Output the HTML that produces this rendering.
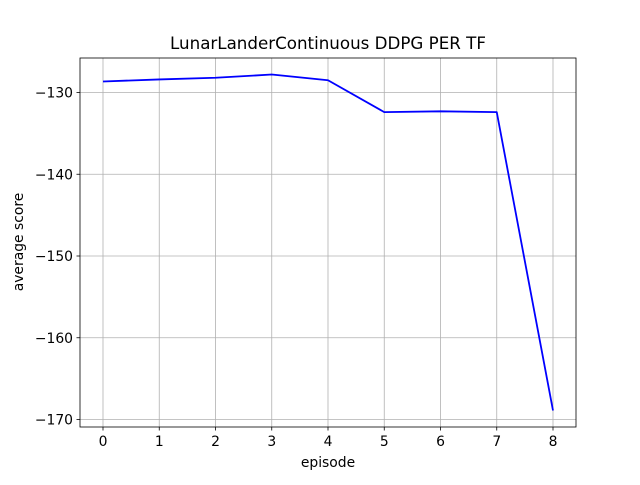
<!DOCTYPE html>
<html><head><meta charset="utf-8"><style>
body{margin:0;background:#fff;}
svg{font-family:"DejaVu Sans","Liberation Sans",sans-serif;}
</style></head><body>
<svg id="chart" width="640" height="480">
<rect width="640" height="480" fill="#fff"/>
<g id="grid"></g>
<rect x="80" y="58" width="496" height="369" fill="none" stroke="#000" stroke-width="0.8"/>
<g id="ticks"></g>
<g id="series"></g>
<text x="328" y="49" font-size="16.7" text-anchor="middle">LunarLanderContinuous DDPG PER TF</text>
<text x="328" y="467" font-size="13.9" text-anchor="middle">episode</text>
<text transform="translate(23,242) rotate(-90)" font-size="13.9" text-anchor="middle">average score</text>
</svg>
<script>
const episodes=[0,1,2,3,4,5,6,7,8];
const scores=[-128.65,-128.4,-128.2,-127.8,-128.5,-132.4,-132.3,-132.4,-168.9];
const xTicks=[0,1,2,3,4,5,6,7,8];
const yTicks=[-130,-140,-150,-160,-170];
const NS="http://www.w3.org/2000/svg";
function xs(v){return 103+v*56.25;}
function ys(v){return 92.5+(-130-v)*8.175;}
function mk(tag,attrs,parent){const e=document.createElementNS(NS,tag);for(const k in attrs)e.setAttribute(k,attrs[k]);parent.appendChild(e);return e;}
const grid=document.getElementById('grid'),ticks=document.getElementById('ticks'),series=document.getElementById('series');
xTicks.forEach(t=>{
 const x=xs(t);
 const g=mk('line',{x1:x,x2:x,y1:58,y2:427,stroke:'#b0b0b0','stroke-width':0.8},grid);
 
 
 mk('line',{x1:x,x2:x,y1:427,y2:430.5,stroke:'#000','stroke-width':0.8},ticks);
 const tx=mk('text',{x:x,y:446,'font-size':13.9,'text-anchor':'middle'},ticks);
 tx.textContent=t;
 
 
});
yTicks.forEach(t=>{
 const y=ys(t);
 const g=mk('line',{x1:80,x2:576,y1:y,y2:y,stroke:'#b0b0b0','stroke-width':0.8},grid);
 
 
 mk('line',{x1:76.5,x2:80,y1:y,y2:y,stroke:'#000','stroke-width':0.8},ticks);
 const tx=mk('text',{x:73,y:y+5,'font-size':13.9,'text-anchor':'end'},ticks);
 tx.textContent='\u2212'+Math.abs(t);
 
 
});
const pts=episodes.map((e,i)=>xs(e)+','+ys(scores[i])).join(' ');
const pl=mk('polyline',{points:pts,fill:'none',stroke:'#0000ff','stroke-width':1.8,'stroke-linejoin':'round'},series);


</script>
</body></html>
